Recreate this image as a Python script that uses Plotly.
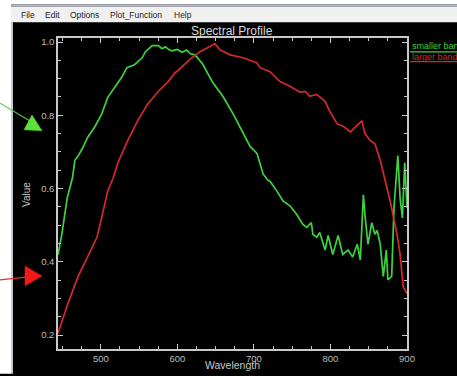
import plotly.graph_objects as go

# ---- data ----
green_wl = [444, 449, 456, 463, 466, 470, 476, 483, 492, 501, 509, 518, 527, 534, 544, 554, 558, 567,
            575, 580, 584, 590, 593, 600, 606, 612, 617, 623, 633, 646, 660, 673, 686, 695, 704, 712,
            718, 721, 730, 738, 747, 756, 764, 769, 775, 777, 782, 786, 793, 797, 803, 810, 816, 823,
            829, 835, 839, 843, 845, 849, 854, 858, 861, 865, 869, 873, 875, 880, 883, 888, 891, 894,
            897, 900]
green_val = [0.42, 0.475, 0.574, 0.63, 0.677, 0.688, 0.71, 0.741, 0.768, 0.803, 0.849, 0.876, 0.903,
             0.93, 0.938, 0.957, 0.973, 0.99, 0.99, 0.982, 0.987, 0.978, 0.976, 0.98, 0.972, 0.978,
             0.968, 0.965, 0.94, 0.89, 0.85, 0.803, 0.75, 0.715, 0.696, 0.64, 0.623, 0.62, 0.593,
             0.566, 0.553, 0.529, 0.502, 0.494, 0.507, 0.475, 0.467, 0.48, 0.432, 0.472, 0.42,
             0.472, 0.42, 0.432, 0.413, 0.448, 0.405, 0.583, 0.529, 0.448, 0.507, 0.475, 0.486,
             0.448, 0.36, 0.432, 0.351, 0.36, 0.547, 0.69, 0.574, 0.52, 0.67, 0.547]

red_wl = [444, 457, 470, 483, 495, 501, 509, 516, 522, 535, 548, 561, 575, 588, 597, 599, 616, 629,
          649, 656, 669, 686, 704, 708, 721, 734, 747, 760, 767, 773, 782, 793, 799, 809, 816, 826,
          832, 841, 845, 852, 858, 865, 878, 887, 891, 895, 900]
red_val = [0.205, 0.286, 0.359, 0.413, 0.467, 0.52, 0.593, 0.628, 0.669, 0.731, 0.785, 0.83, 0.865,
           0.892, 0.917, 0.919, 0.952, 0.973, 0.995, 0.978, 0.965, 0.957, 0.943, 0.93, 0.919, 0.892,
           0.879, 0.863, 0.865, 0.852, 0.857, 0.838, 0.811, 0.776, 0.771, 0.755, 0.768, 0.785, 0.75,
           0.731, 0.723, 0.677, 0.566, 0.475, 0.42, 0.332, 0.313]

x_ticks = [500, 600, 700, 800, 900]
y_ticks = [0.2, 0.4, 0.6, 0.8, 1.0]
series_names = ["smaller band", "larger band"]
menu_items = ["File", "Edit", "Options", "Plot_Function", "Help"]

GREEN = "#3fd23f"
RED = "#d42a2a"
AX = "#c8c8c8"
FONT = "Liberation Sans"

W, H = 457, 376
L, R, T, B = 58, 407, 38, 353


def px(x):
    return (x - L) / (R - L)


def py(y):
    return (B - y) / (B - T)


fig = go.Figure()
fig.add_trace(go.Scatter(x=green_wl, y=green_val, mode="lines", name=series_names[0],
                         line=dict(color=GREEN, width=1.7)))
fig.add_trace(go.Scatter(x=red_wl, y=red_val, mode="lines", name=series_names[1],
                         line=dict(color=RED, width=1.7)))

shapes = []
# white left strip and window frame / menu bar
shapes.append(dict(type="rect", xref="paper", yref="paper", x0=px(-2), x1=px(11), y0=py(-2), y1=py(H + 2),
                   fillcolor="white", line=dict(width=0), layer="above"))
shapes.append(dict(type="rect", xref="paper", yref="paper", x0=px(11), x1=px(13), y0=py(22), y1=py(H + 2),
                   fillcolor="#c4cad6", line=dict(width=0), layer="above"))
shapes.append(dict(type="rect", xref="paper", yref="paper", x0=px(-2), x1=px(W + 2), y0=py(4), y1=py(-2),
                   fillcolor="white", line=dict(width=0), layer="above"))
shapes.append(dict(type="rect", xref="paper", yref="paper", x0=px(11), x1=px(W + 2), y0=py(6), y1=py(4),
                   fillcolor="#aeb8c8", line=dict(width=0), layer="above"))
shapes.append(dict(type="rect", xref="paper", yref="paper", x0=px(11), x1=px(W + 2), y0=py(22), y1=py(6),
                   fillcolor="#f0f0f0", line=dict(width=0), layer="above"))
# legend underlines
shapes.append(dict(type="line", xref="paper", yref="paper", x0=px(410), x1=px(W + 2), y0=py(52), y1=py(52),
                   line=dict(color=GREEN, width=1.2)))
shapes.append(dict(type="line", xref="paper", yref="paper", x0=px(410), x1=px(W + 2), y0=py(62), y1=py(62),
                   line=dict(color=RED, width=1.2)))
# green arrow
shapes.append(dict(type="line", xref="paper", yref="paper", x0=px(0), y0=py(104), x1=px(30), y1=py(122),
                   line=dict(color="#50c850", width=1.2)))
shapes.append(dict(type="path", xref="paper", yref="paper",
                   path=f"M {px(42)} {py(132)} L {px(32)} {py(116)} L {px(24)} {py(131)} Z",
                   fillcolor="#5ee03a", line=dict(color="#5ee03a", width=0.5)))
# red arrow
shapes.append(dict(type="line", xref="paper", yref="paper", x0=px(0), y0=py(283), x1=px(28), y1=py(280),
                   line=dict(color="#e03030", width=1.2)))
shapes.append(dict(type="path", xref="paper", yref="paper",
                   path=f"M {px(42)} {py(279)} L {px(25)} {py(269)} L {px(25)} {py(289)} Z",
                   fillcolor="#f01818", line=dict(color="#f01818", width=0.5)))

annotations = []
menu_x = [19, 43, 68, 108, 172]
for name, mx in zip(menu_items, menu_x):
    annotations.append(dict(text=name, xref="paper", yref="paper", x=px(mx), y=py(14.5), xanchor="left",
                            yanchor="middle", showarrow=False,
                            font=dict(family=FONT, size=8.5, color="#202020")))
annotations.append(dict(text="Spectral Profile", xref="paper", yref="paper", x=px(232), y=py(31),
                        xanchor="center", yanchor="middle", showarrow=False,
                        font=dict(family=FONT, size=12, color="#d8d8d8")))
annotations.append(dict(text="Wavelength", xref="paper", yref="paper", x=px(232), y=py(369),
                        xanchor="center", yanchor="middle", showarrow=False,
                        font=dict(family=FONT, size=10.5, color="#c8c8c8")))
annotations.append(dict(text="Value", xref="paper", yref="paper", x=px(27), y=py(197), textangle=-90,
                        xanchor="center", yanchor="middle", showarrow=False,
                        font=dict(family=FONT, size=10, color="#c8c8c8")))
annotations.append(dict(text=series_names[0], xref="paper", yref="paper", x=px(410), y=py(46.5),
                        xanchor="left", yanchor="middle", showarrow=False,
                        font=dict(family=FONT, size=9, color=GREEN)))
annotations.append(dict(text=series_names[1], xref="paper", yref="paper", x=px(410), y=py(57),
                        xanchor="left", yanchor="middle", showarrow=False,
                        font=dict(family=FONT, size=9, color=RED)))

fig.update_layout(
    width=W, height=H, autosize=False,
    margin=dict(l=L, r=W - R, t=T, b=H - B, pad=0),
    paper_bgcolor="black", plot_bgcolor="black",
    showlegend=False,
    shapes=shapes, annotations=annotations,
    font=dict(family=FONT, size=9, color="#c0c0c0"),
)
fig.update_xaxes(range=[444, 900], tickvals=x_ticks, ticks="inside", ticklen=5, tickcolor=AX,
                 showline=True, linecolor=AX, linewidth=1.5, mirror="ticks", showgrid=False,
                 zeroline=False, tickfont=dict(size=9.5, color="#bdbdbd"),
                 minor=dict(dtick=25, tick0=500, ticks="inside", ticklen=3, tickcolor=AX, showgrid=False))
fig.update_yaxes(range=[0.162, 1.011], tickvals=y_ticks, tickformat=".1f", ticks="inside", ticklen=5,
                 tickcolor=AX, showline=True, linecolor=AX, linewidth=1.5, mirror="ticks", showgrid=False,
                 zeroline=False, tickfont=dict(size=9.5, color="#bdbdbd"),
                 minor=dict(dtick=0.05, tick0=0.2, ticks="inside", ticklen=3, tickcolor=AX, showgrid=False))

fig.write_html("out.html", config={"displayModeBar": False},
               post_script="document.body.style.margin='0';document.body.style.overflow='hidden';"
                           "document.body.style.background='black';"
                           "document.documentElement.style.background='black';")
